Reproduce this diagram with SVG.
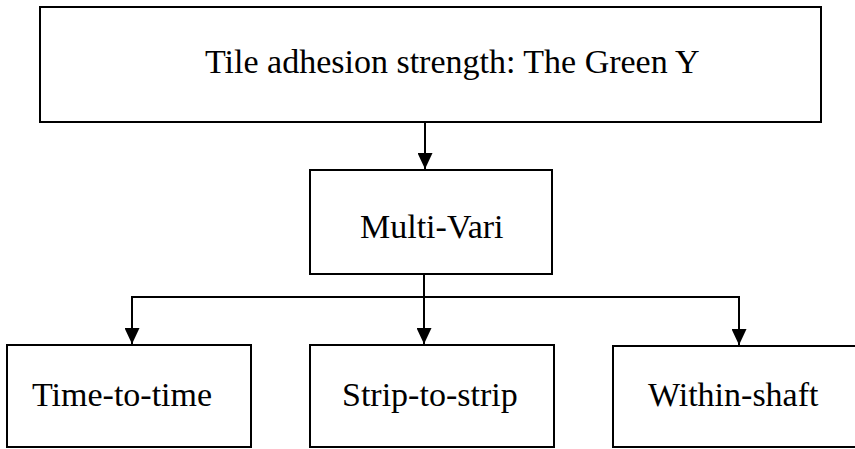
<svg xmlns="http://www.w3.org/2000/svg" width="855" height="449" viewBox="0 0 855 449">
  <style>
    .box { fill: #ffffff; stroke: #000000; stroke-width: 2; }
    .label { font-family: "Liberation Serif", "Times New Roman", serif; font-size: 34px; fill: #000000; }
    .wire { fill: none; stroke: #000000; stroke-width: 2; }
  </style>
  <defs>
    <marker id="arrow" viewBox="0 0 16 15" refX="16" refY="7.5" markerWidth="16" markerHeight="15" markerUnits="userSpaceOnUse" orient="auto">
      <path d="M0,0 L16,7.5 L0,15 Z" fill="#000000"/>
    </marker>
  </defs>
  <rect width="855" height="449" fill="#ffffff"/>

  <g id="connectors">
    <line class="wire" x1="425" y1="123" x2="425" y2="169" marker-end="url(#arrow)"/>
    <line class="wire" x1="424" y1="274" x2="424" y2="297"/>
    <line class="wire" x1="131" y1="297" x2="740" y2="297"/>
    <line class="wire" x1="132" y1="297" x2="132" y2="344" marker-end="url(#arrow)"/>
    <line class="wire" x1="424" y1="297" x2="424" y2="344" marker-end="url(#arrow)"/>
    <line class="wire" x1="739" y1="297" x2="739" y2="345" marker-end="url(#arrow)"/>
  </g>

  <g id="green-y">
    <rect class="box" x="40" y="7" width="781" height="115"/>
    <text class="label" x="205" y="73">Tile adhesion strength: The Green Y</text>
  </g>

  <g id="multi-vari">
    <rect class="box" x="310" y="170" width="242" height="104"/>
    <text class="label" x="360" y="238">Multi-Vari</text>
  </g>

  <g id="time-to-time">
    <rect class="box" x="7" y="345" width="244" height="102"/>
    <text class="label" x="32" y="406">Time-to-time</text>
  </g>

  <g id="strip-to-strip">
    <rect class="box" x="310" y="345" width="244" height="102"/>
    <text class="label" x="342" y="406">Strip-to-strip</text>
  </g>

  <g id="within-shaft">
    <rect class="box" x="613" y="346" width="250" height="101"/>
    <text class="label" x="648" y="406">Within-shaft</text>
  </g>
</svg>
